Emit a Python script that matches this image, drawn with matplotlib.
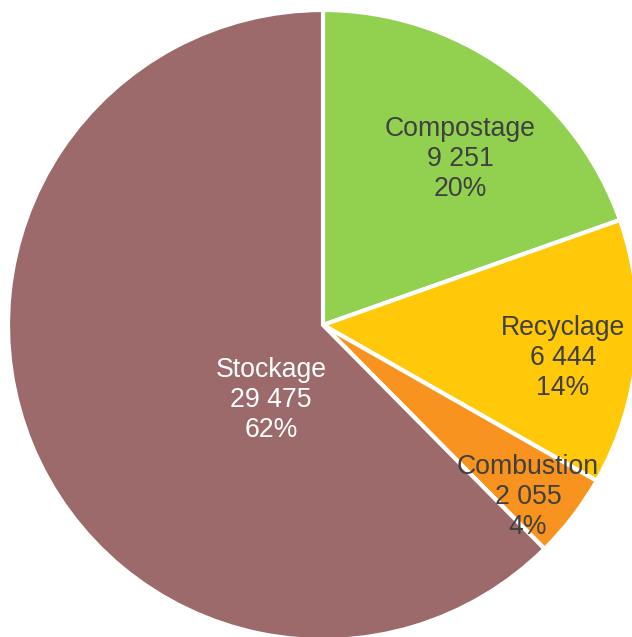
import matplotlib.pyplot as plt

# ── Data ──────────────────────────────────────────────────────────────────────
categories = ["Compostage", "Recyclage", "Combustion", "Stockage"]
values = [9251, 6444, 2055, 29475]
percents = ["20%", "14%", "4%", "62%"]
value_labels = ["9 251", "6 444", "2 055", "29 475"]

colors = ["#92D050", "#FFC808", "#F7931E", "#9C6A6A"]
text_colors = ["#404040", "#404040", "#404040", "#FFFFFF"]

# label centres (pixel coords in the 632x637 picture)
label_px = [(460, 159), (563, 358), (528, 497), (271, 400)]

W, H = 632, 637
CX, CY, R = 323, 325, 315

plt.rcParams["font.family"] = ["Liberation Sans", "DejaVu Sans"]

fig = plt.figure(figsize=(W / 100, H / 100), dpi=100)
ax = fig.add_axes([0, 0, 1, 1])
ax.pie(values, colors=colors, startangle=90, counterclock=False, radius=1,
       wedgeprops=dict(edgecolor="white", linewidth=3))

ax.set_xlim(-CX / R, (W - CX) / R)
ax.set_ylim(-(H - CY) / R, CY / R)
ax.set_aspect("equal", adjustable="datalim")
ax.set_position([0, 0, 1, 1])
ax.axis("off")


def px_to_data(px, py):
    return (px - CX) / R, (CY - py) / R


for name, vl, pc, (px, py), tc in zip(categories, value_labels, percents, label_px, text_colors):
    x, y = px_to_data(px, py)
    ax.text(x, y, f"{name}\n{vl}\n{pc}", ha="center", va="center",
            fontsize=19.2, color=tc, linespacing=1.22)

plt.savefig("out.png", dpi=100)
